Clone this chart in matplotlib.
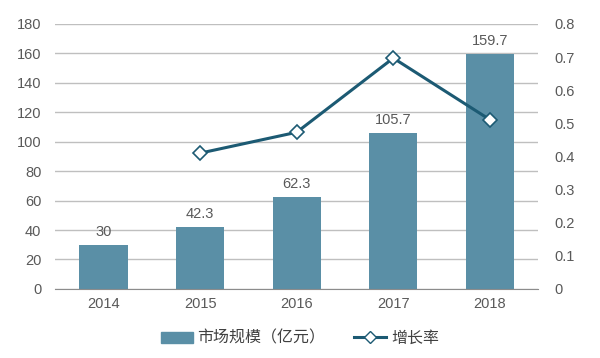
import matplotlib
matplotlib.use("Agg")
import matplotlib.pyplot as plt
from matplotlib.lines import Line2D
from matplotlib.patches import Patch

plt.rcParams['font.family'] = ['Noto Sans CJK SC', 'DejaVu Sans']

years = ["2014", "2015", "2016", "2017", "2018"]
market = [30, 42.3, 62.3, 105.7, 159.7]
market_labels = ["30", "42.3", "62.3", "105.7", "159.7"]
growth_years = ["2015", "2016", "2017", "2018"]
growth = [0.41, 0.473, 0.697, 0.511]

bar_color = "#5A8FA6"
line_color = "#1C5A73"
text_color = "#595959"
grid_color = "#BFBFBF"

fig = plt.figure(figsize=(6.0, 3.58), dpi=100)
ax = fig.add_axes([0.092, 0.193, 0.805, 0.74])
ax2 = ax.twinx()

x = list(range(len(years)))
ax.bar(x, market, width=0.5, color=bar_color, zorder=2)
for xi, v, lab in zip(x, market, market_labels):
    ax.text(xi, v + 4, lab, ha="center", va="bottom", fontsize=10.5, color=text_color, family=['Liberation Sans'])

gx = [years.index(y) for y in growth_years]
ax2.plot(gx, growth, color=line_color, lw=2.2, marker="D", markersize=7,
         markerfacecolor="white", markeredgecolor=line_color, markeredgewidth=1.2, zorder=3)

ax.set_ylim(0, 180)
ax.set_yticks(range(0, 181, 20))
ax2.set_ylim(0, 0.8)
ax2.set_yticks([i / 10 for i in range(9)])
ax2.set_yticklabels(["0"] + [f"{i/10:.1f}" for i in range(1, 9)])
ax.set_xlim(-0.5, 4.5)
ax.set_xticks(x)
ax.set_xticklabels(years)

ax.grid(axis="y", color=grid_color, lw=1, zorder=0)
ax.set_axisbelow(True)
for a in (ax, ax2):
    for s in a.spines.values():
        s.set_visible(False)
    a.tick_params(length=0, colors=text_color, labelsize=10.5)
    for lab in a.get_xticklabels() + a.get_yticklabels():
        lab.set_family(['Liberation Sans'])
ax.spines["bottom"].set_visible(True)
ax.spines["bottom"].set_color("#8C8C8C")
ax.tick_params(axis="y", pad=10)
ax2.tick_params(axis="y", pad=12)
ax.tick_params(axis="x", pad=6)

handles = [Patch(color=bar_color, label="市场规模（亿元）"),
           Line2D([0], [0], color=line_color, lw=2.2, marker="D", markersize=6,
                  markerfacecolor="white", markeredgecolor=line_color, label="增长率")]
fig.legend(handles=handles, loc="center", bbox_to_anchor=(0.5, 0.055), ncol=2,
           frameon=False, fontsize=11.5, labelcolor="#404040", handlelength=2.0,
           handletextpad=0.3, columnspacing=1.8)

fig.savefig("out.png", dpi=100)
